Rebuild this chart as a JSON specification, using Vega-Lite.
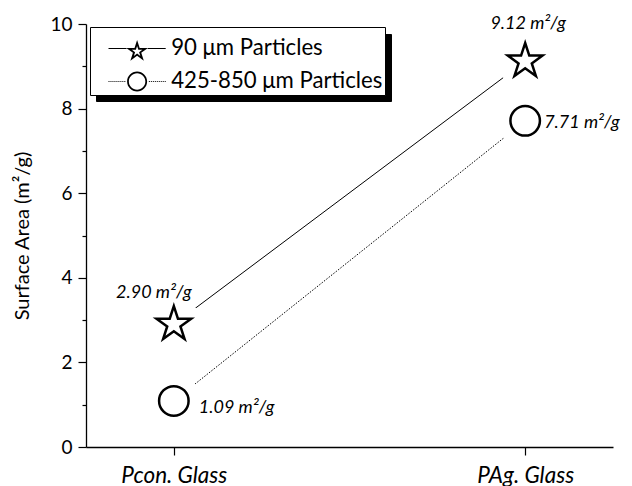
{
  "$schema": "https://vega.github.io/schema/vega-lite/v6.json",
  "autosize": {"type": "none"},
  "padding": {"left": 86, "top": 24, "right": 19, "bottom": 39},
  "width": 527,
  "height": 423,
  "background": "white",
  "config": {
    "view": {"stroke": null},
    "font": "Lato",
    "axis": {"grid": false, "domainColor": "black", "domainWidth": 1.3, "tickColor": "black", "tickWidth": 1.2, "labelColor": "black", "titleColor": "black", "labelFont": "Lato", "titleFont": "Lato"}
  },
  "data": {
    "values": [
      {"material": "Pcon. Glass", "series": "90 μm Particles", "value": 2.90, "label": "2.90 m²/g"},
      {"material": "PAg. Glass", "series": "90 μm Particles", "value": 9.12, "label": "9.12 m²/g"},
      {"material": "Pcon. Glass", "series": "425-850 μm Particles", "value": 1.09, "label": "1.09 m²/g"},
      {"material": "PAg. Glass", "series": "425-850 μm Particles", "value": 7.71, "label": "7.71 m²/g"}
    ]
  },
  "encoding": {
    "x": {
      "field": "material", "type": "nominal", "sort": ["Pcon. Glass", "PAg. Glass"],
      "scale": {"type": "point", "padding": 0.25},
      "axis": {"title": null, "labelAngle": 0, "labelFontSize": 22.5, "labelFontStyle": "italic", "tickSize": 8, "labelPadding": 9}
    },
    "y": {
      "field": "value", "type": "quantitative",
      "scale": {"domain": [0, 10], "nice": false, "zero": true},
      "axis": {
        "title": "Surface Area (m²/g)", "titleFontSize": 20, "titleFontWeight": "normal", "titlePadding": 17,
        "values": [0, 1, 2, 3, 4, 5, 6, 7, 8, 9, 10],
        "labelExpr": "datum.value % 2 === 0 ? datum.label : ''",
        "tickSize": {"condition": {"test": "datum.value % 2 !== 0", "value": 4}, "value": 8},
        "labelFontSize": 19, "labelPadding": 6
      }
    }
  },
  "layer": [
    {
      "mark": {"type": "point", "opacity": 0, "size": 1},
      "encoding": {
        "fill": {
          "field": "material", "type": "nominal",
          "scale": {"range": ["black", "black"]},
          "legend": {
            "orient": "top-left", "offset": 10, "zindex": 0, "title": " ", "titleFontSize": 5, "titlePadding": 3,
            "labelExpr": "(datum.label === 'Pcon. Glass' ? '90 μm Particles' : '425-850 μm Particles') + '  '",
            "symbolSize": 484, "symbolStrokeWidth": 0, "labelLimit": 400,
            "symbolOffset": 33.7, "labelOffset": 23, "padding": 2.3, "rowPadding": 9,
            "labelFont": "Lato", "labelFontSize": 22.2, "labelColor": "black", "labelOpacity": 0,
            "fillColor": "black", "strokeColor": "black",
            "encode": {"symbols": {"update": {"opacity": {"value": 0}}}}
          }
        }
      }
    },
    {
      "transform": [{"filter": "datum.series === '90 μm Particles'"}],
      "mark": {"type": "line", "color": "black", "strokeWidth": 1}
    },
    {
      "transform": [{"filter": "datum.series === '425-850 μm Particles'"}],
      "mark": {"type": "line", "color": "black", "strokeWidth": 1, "strokeDash": [1.5, 1.5]}
    },
    {
      "mark": {"type": "point", "shape": "circle", "size": 3025, "filled": true, "fill": "white", "strokeWidth": 0, "opacity": 1}
    },
    {
      "transform": [{"filter": "datum.series === '90 μm Particles'"}],
      "mark": {"type": "point", "shape": "M0,-1L0.2245,-0.309L0.9511,-0.309L0.3633,0.118L0.5878,0.809L0,0.382L-0.5878,0.809L-0.3633,0.118L-0.9511,-0.309L-0.2245,-0.309Z", "size": 1330, "fill": "white", "stroke": "black", "strokeWidth": 2.5, "opacity": 1, "strokeJoin": "miter"}
    },
    {
      "transform": [{"filter": "datum.series === '425-850 μm Particles'"}],
      "mark": {"type": "point", "shape": "circle", "size": 870, "fill": "white", "stroke": "black", "strokeWidth": 2.5, "opacity": 1}
    },
    {
      "transform": [{"filter": "datum.label === '2.90 m²/g'"}],
      "mark": {"type": "text", "font": "Lato", "fontSize": 18, "fontStyle": "italic", "align": "center", "baseline": "middle", "dx": -20, "dy": -31, "color": "black"},
      "encoding": {"text": {"field": "label"}}
    },
    {
      "transform": [{"filter": "datum.label === '9.12 m²/g'"}],
      "mark": {"type": "text", "font": "Lato", "fontSize": 18, "fontStyle": "italic", "align": "center", "baseline": "middle", "dx": 3, "dy": -37, "color": "black"},
      "encoding": {"text": {"field": "label"}}
    },
    {
      "transform": [{"filter": "datum.label === '7.71 m²/g'"}],
      "mark": {"type": "text", "font": "Lato", "fontSize": 18, "fontStyle": "italic", "align": "left", "baseline": "middle", "dx": 19, "dy": 2, "color": "black"},
      "encoding": {"text": {"field": "label"}}
    },
    {
      "transform": [{"filter": "datum.label === '1.09 m²/g'"}],
      "mark": {"type": "text", "font": "Lato", "fontSize": 18, "fontStyle": "italic", "align": "left", "baseline": "middle", "dx": 25, "dy": 7, "color": "black"},
      "encoding": {"text": {"field": "label"}}
    },
    {
      "transform": [{"filter": "false"}],
      "mark": {"type": "point", "filled": true, "color": "black", "opacity": 1, "strokeWidth": 0},
      "encoding": {
        "shape": {
          "field": "series", "type": "nominal",
          "scale": {
            "domain": ["90 μm Particles", "425-850 μm Particles"],
            "range": [
              "M0,-0.76L0.2335,-0.0414L0.9891,-0.0414L0.3778,0.4027L0.6113,1.1214L0,0.6773L-0.6113,1.1214L-0.3778,0.4027L-0.9891,-0.0414L-0.2335,-0.0414ZM0,-0.22L-0.1123,0.1255L-0.4756,0.1255L-0.1817,0.339L-0.2939,0.6845L0,0.471L0.2939,0.6845L0.1817,0.339L0.4756,0.1255L0.1123,0.1255ZM-2.6,-0.045L-0.97,-0.045L-0.97,0.045L-2.6,0.045ZM0.97,-0.045L2.6,-0.045L2.6,0.045L0.97,0.045Z",
              "M0.91,0C0.91,0.5026 0.5026,0.91 0,0.91C-0.5026,0.91 -0.91,0.5026 -0.91,0C-0.91,-0.5026 -0.5026,-0.91 0,-0.91C0.5026,-0.91 0.91,-0.5026 0.91,0ZM0.75,0C0.75,-0.4142 0.4142,-0.75 0,-0.75C-0.4142,-0.75 -0.75,-0.4142 -0.75,0C-0.75,0.4142 -0.4142,0.75 0,0.75C0.4142,0.75 0.75,0.4142 0.75,0ZM-2.6,-0.045h0.09v0.09h-0.09ZM-2.42,-0.045h0.09v0.09h-0.09ZM-2.24,-0.045h0.09v0.09h-0.09ZM-2.06,-0.045h0.09v0.09h-0.09ZM-1.88,-0.045h0.09v0.09h-0.09ZM-1.7,-0.045h0.09v0.09h-0.09ZM-1.52,-0.045h0.09v0.09h-0.09ZM-1.34,-0.045h0.09v0.09h-0.09ZM-1.16,-0.045h0.09v0.09h-0.09ZM1.07,-0.045h0.09v0.09h-0.09ZM1.25,-0.045h0.09v0.09h-0.09ZM1.43,-0.045h0.09v0.09h-0.09ZM1.61,-0.045h0.09v0.09h-0.09ZM1.79,-0.045h0.09v0.09h-0.09ZM1.97,-0.045h0.09v0.09h-0.09ZM2.15,-0.045h0.09v0.09h-0.09ZM2.33,-0.045h0.09v0.09h-0.09ZM2.51,-0.045h0.09v0.09h-0.09Z"
            ]
          },
          "legend": {
            "orient": "none", "legendX": 4, "legendY": 3, "zindex": 2, "title": " ", "titleFontSize": 5, "titlePadding": 3,
            "labelExpr": "datum.label + '  '",
            "symbolSize": 484, "symbolStrokeWidth": 0, "labelLimit": 400,
            "symbolOffset": 33.7, "labelOffset": 23, "padding": 2.3, "rowPadding": 9,
            "labelFont": "Lato", "labelFontSize": 22.2, "labelColor": "black",
            "fillColor": "white", "strokeColor": "black",
            "encode": {"symbols": {"update": {"fill": {"value": "black"}, "stroke": {"value": "transparent"}, "strokeWidth": {"value": 0}, "opacity": {"value": 1}}}}
          }
        }
      }
    }
  ]
}
